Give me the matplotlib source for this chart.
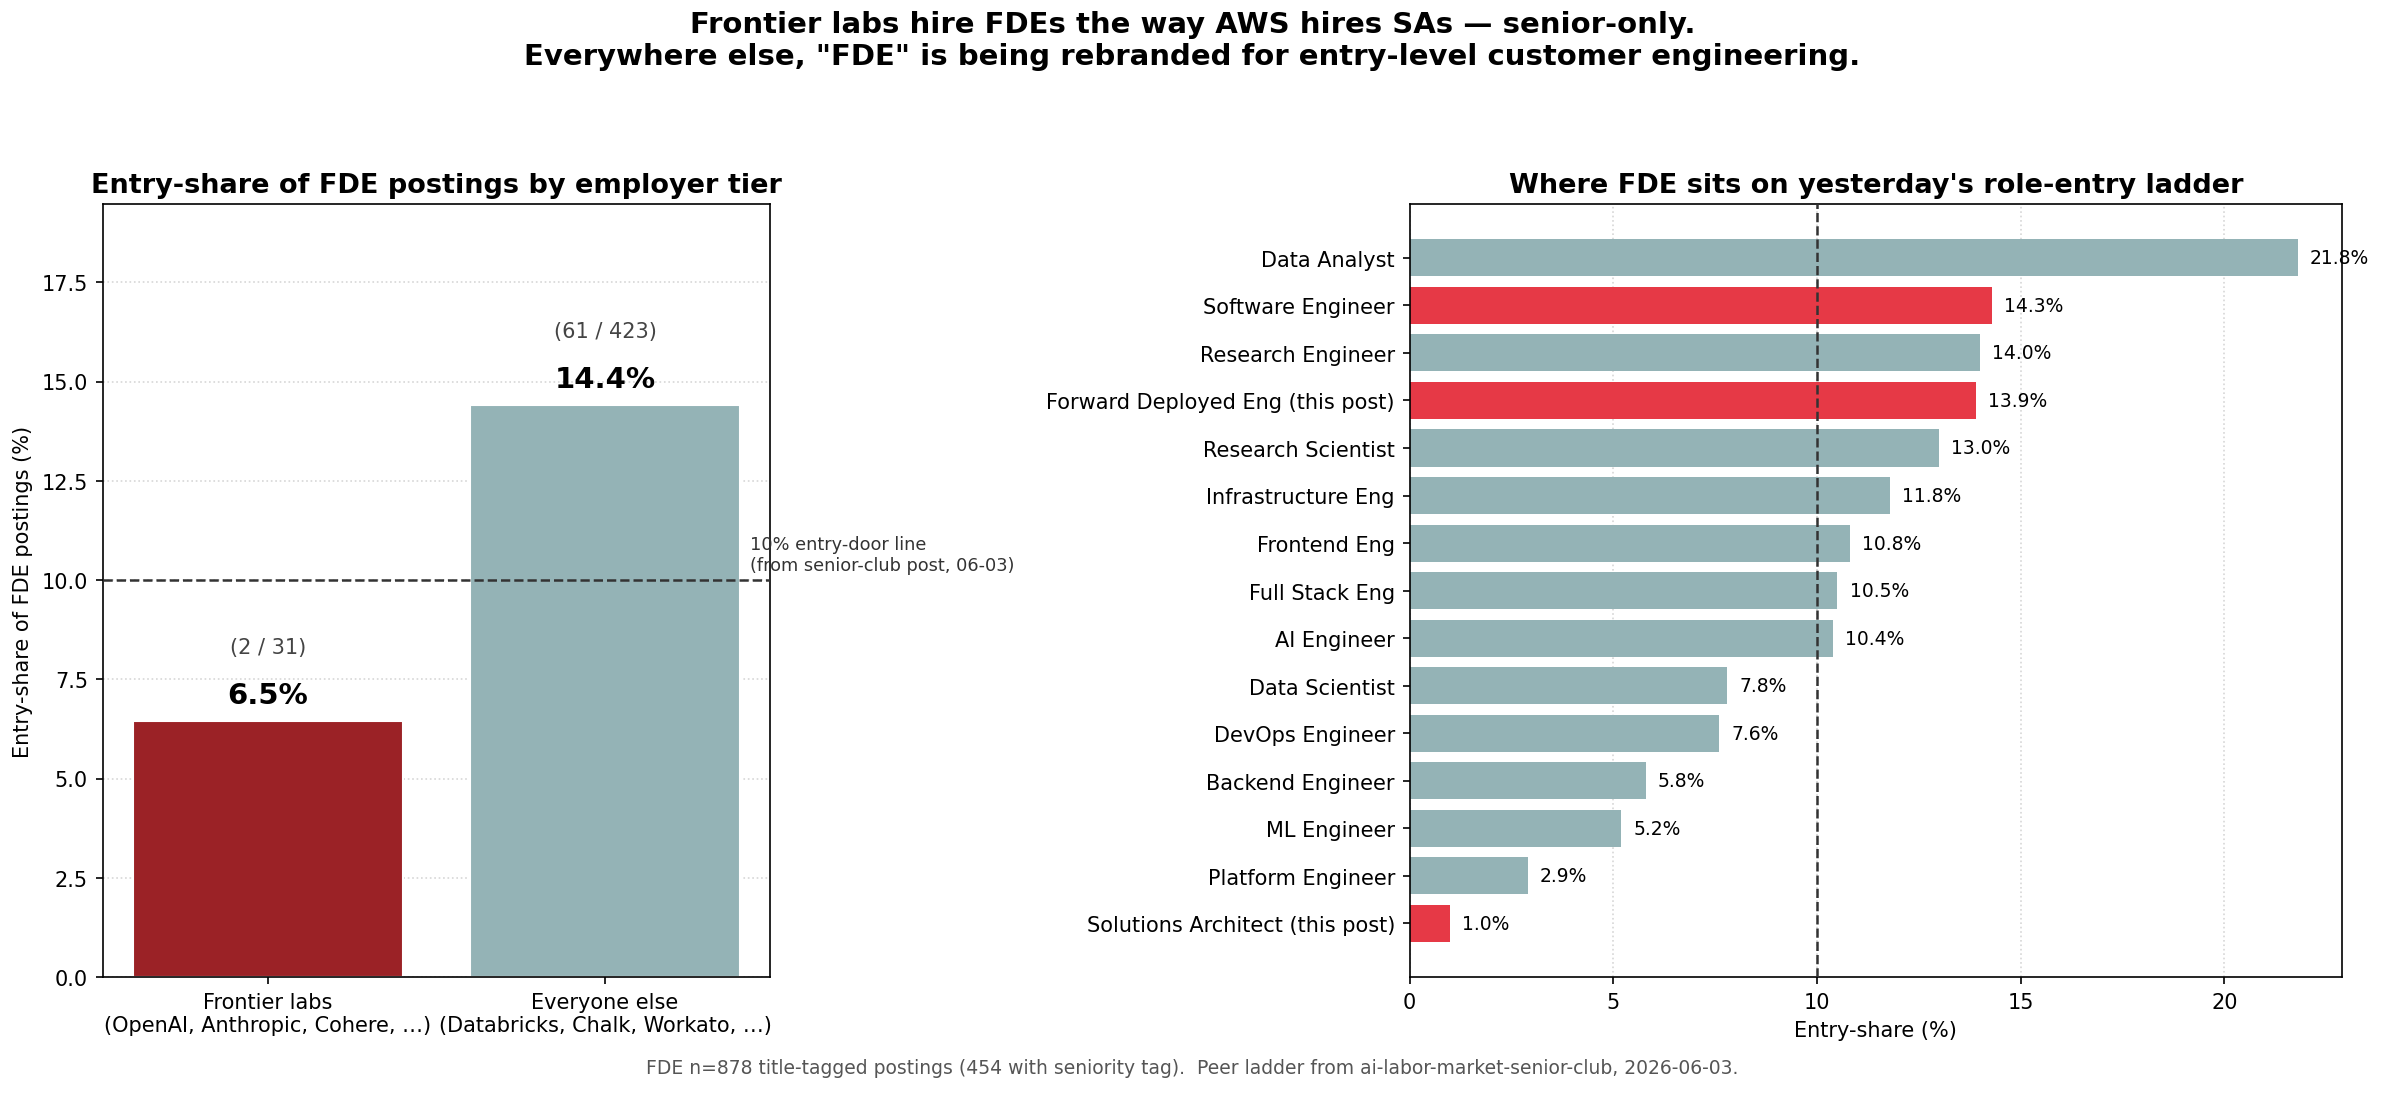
import matplotlib.pyplot as plt

# Left panel: entry-share by employer tier
tiers = ['Frontier labs\n(OpenAI, Anthropic, Cohere, …)',
         'Everyone else\n(Databricks, Chalk, Workato, …)']
entry_counts = [2, 61]
tier_totals = [31, 423]
tier_colors = ['#9b2226', '#94b3b6']

# Right panel: role-entry ladder (top to bottom)
roles = ['Data Analyst', 'Software Engineer', 'Research Engineer',
         'Forward Deployed Eng (this post)', 'Research Scientist',
         'Infrastructure Eng', 'Frontend Eng', 'Full Stack Eng', 'AI Engineer',
         'Data Scientist', 'DevOps Engineer', 'Backend Engineer', 'ML Engineer',
         'Platform Engineer', 'Solutions Architect (this post)']
role_share = [21.8, 14.3, 14.0, 13.9, 13.0, 11.8, 10.8, 10.5, 10.4,
              7.8, 7.6, 5.8, 5.2, 2.9, 1.0]
highlight = ['Software Engineer', 'Forward Deployed Eng (this post)',
             'Solutions Architect (this post)']

GREY = '#94b3b6'
RED = '#e63946'

fig = plt.figure(figsize=(15.9, 7.293), dpi=150)
ax1 = fig.add_axes([0.043, 0.106, 0.280, 0.7065])
ax2 = fig.add_axes([0.591, 0.106, 0.391, 0.7065])

fig.suptitle('Frontier labs hire FDEs the way AWS hires SAs — senior-only.\n'
             'Everywhere else, "FDE" is being rebranded for entry-level customer engineering.',
             fontsize=14, fontweight='bold', y=0.99)

# ---- left
shares = [c / t * 100 for c, t in zip(entry_counts, tier_totals)]
xs = range(len(tiers))
ax1.bar(xs, shares, width=0.8, color=tier_colors, edgecolor='white', linewidth=1, zorder=2)
for x, s, c, t in zip(xs, shares, entry_counts, tier_totals):
    ax1.text(x, s + 0.3, f'{s:.1f}%', ha='center', va='bottom',
             fontsize=14, fontweight='bold')
    ax1.text(x, s + 1.85, f'({c} / {t})', ha='center', va='center',
             fontsize=10, color='#444444')
ax1.axhline(10, color='#333333', linestyle='--', linewidth=1.2, zorder=3)
ax1.text(1.43, 10.15, '10% entry-door line\n(from senior-club post, 06-03)',
         ha='left', va='bottom', fontsize=8.5, color='#333333', clip_on=False)
ax1.set_xticks(list(xs))
ax1.set_xticklabels(tiers, fontsize=10)
ax1.set_ylim(0, max(shares) * 1.35)
ax1.set_ylabel('Entry-share of FDE postings (%)', fontsize=10)
ax1.set_title('Entry-share of FDE postings by employer tier', fontsize=13, fontweight='bold')
ax1.grid(axis='y', linestyle=':', color='#cccccc', alpha=0.8, zorder=0)
ax1.set_axisbelow(True)

# ---- right
ypos = list(range(len(roles)))[::-1]
colors = [RED if r in highlight else GREY for r in roles]
ax2.barh(ypos, role_share, height=0.78, color=colors, zorder=2)
for y, v in zip(ypos, role_share):
    ax2.text(v + 0.3, y, f'{v:.1f}%', va='center', ha='left', fontsize=9, clip_on=False)
ax2.axvline(10, color='#333333', linestyle='--', linewidth=1.2, zorder=3)
ax2.set_yticks(ypos)
ax2.set_yticklabels(roles, fontsize=10)
ax2.set_xlim(0, max(role_share) * 1.05)
ax2.set_xlabel('Entry-share (%)', fontsize=10)
ax2.set_title("Where FDE sits on yesterday's role-entry ladder", fontsize=13, fontweight='bold')
ax2.grid(axis='x', linestyle=':', color='#cccccc', alpha=0.8, zorder=0)
ax2.set_axisbelow(True)

fig.text(0.5, 0.023, 'FDE n=878 title-tagged postings (454 with seniority tag).  '
         'Peer ladder from ai-labor-market-senior-club, 2026-06-03.',
         ha='center', va='center', fontsize=9, color='#555555')

fig.savefig('out.png', dpi=150)
